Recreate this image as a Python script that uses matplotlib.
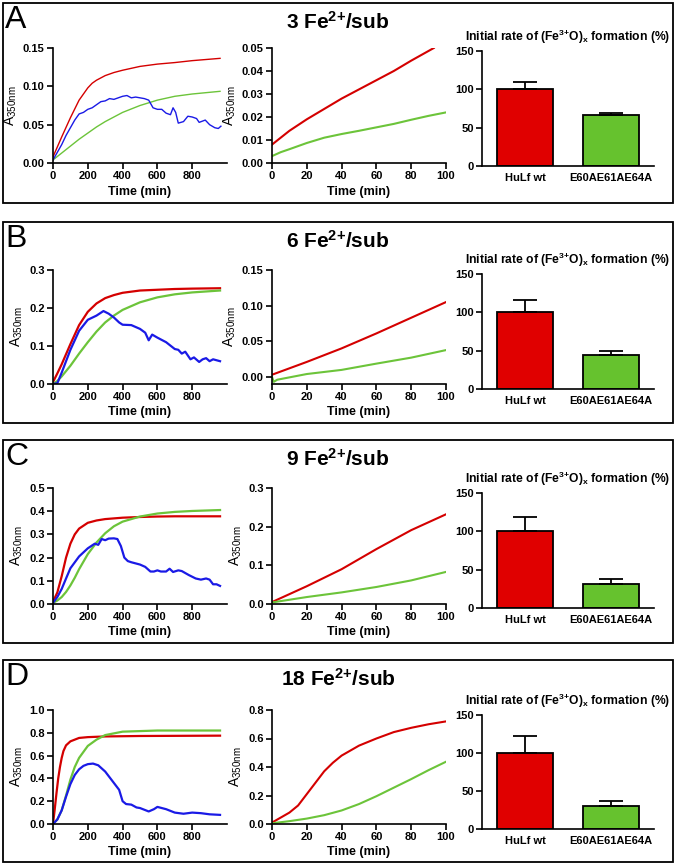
import matplotlib.pyplot as plt
from matplotlib.patches import Rectangle
from matplotlib.ticker import FormatStrFormatter

plt.rcParams['font.family'] = ['Liberation Sans', 'DejaVu Sans']
plt.rcParams['mathtext.fontset'] = 'custom'
plt.rcParams['mathtext.rm'] = 'Liberation Sans'
plt.rcParams['mathtext.it'] = 'Liberation Sans:italic'
plt.rcParams['mathtext.bf'] = 'Liberation Sans:bold'

RED = '#d40000'
GREEN = '#6cc43a'
BLUE = '#1a1ae6'
BAR_RED = '#e00000'
BAR_GREEN = '#66c22e'

# ---------------- data ----------------
# panel A : 3 Fe2+/sub
a_t = [0, 50, 100, 150, 200, 225, 250, 300, 350, 400, 500, 600, 700, 800, 960]
a_red = [0.008, 0.034, 0.059, 0.082, 0.098, 0.104, 0.108, 0.114, 0.118, 0.121, 0.126, 0.129,
         0.131, 0.1335, 0.1365]
a_green = [0.004, 0.013, 0.022, 0.031, 0.039, 0.043, 0.047, 0.054, 0.060, 0.066, 0.075, 0.082,
           0.087, 0.090, 0.0935]
a_blue_t = [0, 25, 50, 75, 100, 125, 150, 175, 200, 225, 250, 275, 300, 325, 350, 375, 400, 425,
            450, 475, 500, 525, 550, 575, 600, 625, 650, 675, 690, 705, 720, 750, 775, 800, 825,
            840, 875, 900, 930, 950, 965]
a_blue = [0.004, 0.014, 0.024, 0.036, 0.046, 0.056, 0.064, 0.066, 0.070, 0.072, 0.076, 0.080, 0.081,
          0.084, 0.083, 0.085, 0.087, 0.088, 0.085, 0.086, 0.085, 0.084, 0.082, 0.072, 0.070, 0.070,
          0.065, 0.063, 0.072, 0.066, 0.052, 0.054, 0.061, 0.060, 0.058, 0.053, 0.056, 0.050, 0.046,
          0.045, 0.048]
a_mid_red_t = [0, 5, 10, 20, 30, 40, 50, 60, 70, 80, 93]
a_mid_red = [0.008, 0.011, 0.014, 0.019, 0.0235, 0.028, 0.032, 0.036, 0.040, 0.0445, 0.050]
a_mid_green_t = [0, 5, 10, 20, 30, 40, 50, 60, 70, 80, 90, 100]
a_mid_green = [0.003, 0.0047, 0.006, 0.0087, 0.011, 0.0126, 0.014, 0.0155, 0.017, 0.0188, 0.0205, 0.022]

# panel B : 6 Fe2+/sub
b_t = [0, 25, 50, 100, 150, 200, 250, 300, 350, 400, 500, 600, 700, 800, 960]
b_red = [0.005, 0.028, 0.052, 0.105, 0.155, 0.190, 0.212, 0.226, 0.234, 0.240, 0.246, 0.248, 0.250, 0.251, 0.252]
b_green = [0.000, 0.008, 0.020, 0.048, 0.080, 0.110, 0.138, 0.162, 0.180, 0.195, 0.215, 0.228, 0.236, 0.241, 0.246]
b_blue_t = [0, 25, 50, 75, 100, 150, 200, 250, 290, 320, 350, 380, 400, 450, 500, 530, 550, 570,
            600, 650, 700, 720, 740, 760, 790, 810, 840, 860, 880, 900, 920, 960]
b_blue = [0.000, 0.002, 0.030, 0.060, 0.090, 0.140, 0.169, 0.180, 0.192, 0.185, 0.175, 0.162, 0.156,
          0.155, 0.145, 0.135, 0.115, 0.130, 0.122, 0.110, 0.092, 0.090, 0.080, 0.085, 0.065, 0.070,
          0.058, 0.065, 0.068, 0.060, 0.065, 0.060]
b_mid_t = [0, 20, 40, 60, 80, 100]
b_mid_red = [0.003, 0.021, 0.040, 0.061, 0.083, 0.105]
b_mid_green_t = [0, 1, 3, 20, 40, 60, 80, 100]
b_mid_green = [0.000, -0.007, -0.004, 0.004, 0.0098, 0.0186, 0.027, 0.0376]

# panel C : 9 Fe2+/sub
c_t = [0, 25, 50, 75, 100, 125, 150, 200, 250, 300, 350, 400, 500, 600, 700, 800, 960]
c_red = [0.010, 0.050, 0.120, 0.200, 0.260, 0.300, 0.325, 0.350, 0.360, 0.366, 0.369, 0.372,
         0.375, 0.377, 0.378, 0.378, 0.378]
c_green = [0.005, 0.015, 0.030, 0.052, 0.080, 0.113, 0.150, 0.215, 0.265, 0.305, 0.335, 0.355,
           0.377, 0.390, 0.397, 0.401, 0.405]
c_blue_t = [0, 25, 50, 75, 100, 150, 200, 240, 260, 280, 300, 320, 350, 370, 390, 410, 430, 450,
            500, 530, 560, 580, 600, 620, 650, 670, 690, 720, 740, 780, 820, 850, 880, 900, 920, 940, 960]
c_blue = [0.005, 0.030, 0.065, 0.110, 0.154, 0.205, 0.240, 0.260, 0.255, 0.280, 0.275, 0.282, 0.283,
          0.280, 0.250, 0.200, 0.185, 0.180, 0.170, 0.160, 0.140, 0.140, 0.145, 0.140, 0.140, 0.152,
          0.138, 0.145, 0.142, 0.125, 0.110, 0.105, 0.110, 0.105, 0.085, 0.085, 0.078]
c_mid_t = [0, 20, 40, 60, 80, 100]
c_mid_red = [0.005, 0.046, 0.090, 0.142, 0.191, 0.232]
c_mid_green = [0.004, 0.018, 0.030, 0.044, 0.061, 0.083]

# panel D : 18 Fe2+/sub
d_red_t = [0, 10, 20, 30, 40, 50, 60, 75, 100, 150, 200, 300, 500, 960]
d_red = [0.00, 0.13, 0.27, 0.40, 0.50, 0.58, 0.64, 0.69, 0.725, 0.755, 0.762, 0.768, 0.772, 0.775]
d_green_t = [0, 25, 50, 75, 100, 125, 150, 200, 250, 300, 400, 600, 960]
d_green = [0.00, 0.04, 0.12, 0.25, 0.39, 0.50, 0.58, 0.685, 0.74, 0.78, 0.81, 0.82, 0.82]
d_blue_t = [0, 25, 50, 75, 100, 125, 150, 175, 200, 230, 260, 300, 350, 380, 400, 420, 450, 480,
            500, 550, 580, 600, 650, 700, 750, 800, 850, 900, 960]
d_blue = [0.00, 0.04, 0.12, 0.24, 0.35, 0.43, 0.48, 0.51, 0.525, 0.53, 0.515, 0.46, 0.36, 0.30,
          0.20, 0.175, 0.170, 0.145, 0.140, 0.110, 0.130, 0.150, 0.130, 0.100, 0.090, 0.100, 0.095,
          0.085, 0.080]
d_mid_red_t = [0, 10, 15, 20, 25, 30, 35, 40, 50, 60, 70, 80, 90, 100]
d_mid_red = [0.01, 0.08, 0.13, 0.21, 0.29, 0.37, 0.43, 0.48, 0.55, 0.60, 0.645, 0.675, 0.70, 0.72]
d_mid_green_t = [0, 10, 20, 30, 40, 50, 60, 70, 80, 90, 100]
d_mid_green = [0.005, 0.02, 0.038, 0.062, 0.095, 0.14, 0.195, 0.255, 0.315, 0.378, 0.437]

# initial rates (%)
bar_labels = ['HuLf wt', 'E60AE61AE64A']
rate_a = [100, 66]
err_a = [10, 3.5]
rate_b = [100, 44]
err_b = [16, 5.5]
rate_c = [100, 31]
err_c = [19, 7]
rate_d = [100, 30]
err_d = [22.5, 7.5]

panel_letters = ['A', 'B', 'C', 'D']
panel_titles = ['3', '6', '9', '18']

# ---------------- layout (pixels) ----------------
W, H = 677, 865
fig = plt.figure(figsize=(W / 100, H / 100), dpi=100)


def px(x0, y0, x1, y1):
    return [x0 / W, 1 - y1 / H, (x1 - x0) / W, (y1 - y0) / H]


box_top = [3, 222, 440, 660]
box_bot = [203, 423, 643, 862]
ax_top = [48, 270, 488, 710]
ax_bot = [163, 384, 604, 824]
bar_top = [51, 274, 493, 715]
bar_bot = [166, 389, 608, 829]

rows = [
    dict(left=[(a_t, a_red, RED), (a_t, a_green, GREEN), (a_blue_t, a_blue, BLUE)],
         mid=[(a_mid_red_t, a_mid_red, RED), (a_mid_green_t, a_mid_green, GREEN)],
         lylim=(0, 0.15), lyt=[0, 0.05, 0.10, 0.15], lfmt='%.2f',
         mylim=(0, 0.05), myt=[0, 0.01, 0.02, 0.03, 0.04, 0.05], mfmt='%.2f',
         rate=rate_a, err=err_a, lw=1.0),
    dict(left=[(b_t, b_red, RED), (b_t, b_green, GREEN), (b_blue_t, b_blue, BLUE)],
         mid=[(b_mid_t, b_mid_red, RED), (b_mid_green_t, b_mid_green, GREEN)],
         lylim=(0, 0.3), lyt=[0, 0.1, 0.2, 0.3], lfmt='%.1f',
         mylim=(-0.01, 0.15), myt=[0, 0.05, 0.10, 0.15], mfmt='%.2f',
         rate=rate_b, err=err_b, lw=1.6),
    dict(left=[(c_t, c_red, RED), (c_t, c_green, GREEN), (c_blue_t, c_blue, BLUE)],
         mid=[(c_mid_t, c_mid_red, RED), (c_mid_t, c_mid_green, GREEN)],
         lylim=(0, 0.5), lyt=[0, 0.1, 0.2, 0.3, 0.4, 0.5], lfmt='%.1f',
         mylim=(0, 0.3), myt=[0, 0.1, 0.2, 0.3], mfmt='%.1f',
         rate=rate_c, err=err_c, lw=1.6),
    dict(left=[(d_red_t, d_red, RED), (d_green_t, d_green, GREEN), (d_blue_t, d_blue, BLUE)],
         mid=[(d_mid_red_t, d_mid_red, RED), (d_mid_green_t, d_mid_green, GREEN)],
         lylim=(0, 1.0), lyt=[0, 0.2, 0.4, 0.6, 0.8, 1.0], lfmt='%.1f',
         mylim=(0, 0.8), myt=[0, 0.2, 0.4, 0.6, 0.8], mfmt='%.1f',
         rate=rate_d, err=err_d, lw=1.6),
]


def prism(ax):
    for s in ['top', 'right']:
        ax.spines[s].set_visible(False)
    for s in ['left', 'bottom']:
        ax.spines[s].set_linewidth(1.2)
    ax.tick_params(direction='out', length=4, width=1.2, labelsize=8, pad=2)
    for lab in ax.get_xticklabels() + ax.get_yticklabels():
        lab.set_fontweight('bold')


for i, r in enumerate(rows):
    # panel frame
    fig.patches.append(Rectangle((3 / W, 1 - box_bot[i] / H), 670 / W, (box_bot[i] - box_top[i]) / H,
                                 transform=fig.transFigure, fill=False, edgecolor='black', linewidth=1.3))
    fig.text(5 / W, 1 - (box_top[i] + 2) / H, panel_letters[i], fontsize=23, va='top', ha='left')
    fig.text(338 / W, 1 - (box_top[i] + 19) / H, panel_titles[i] + r' Fe$^{\mathbf{2{+}}}$/sub',
             fontsize=15, fontweight='bold', ha='center', va='center')

    # long time course
    ax = fig.add_axes(px(53, ax_top[i], 227, ax_bot[i]))
    for t, y, c in r['left']:
        ax.plot(t, y, color=c, lw=r['lw'])
    ax.set_xlim(0, 1000)
    ax.set_ylim(*r['lylim'])
    ax.set_xticks([0, 200, 400, 600, 800])
    ax.set_yticks(r['lyt'])
    ax.yaxis.set_major_formatter(FormatStrFormatter(r['lfmt']))
    ax.set_xlabel('Time (min)', fontsize=9, fontweight='bold', labelpad=3)
    ax.set_ylabel(r'$\mathregular{A_{350nm}}$', fontsize=10, labelpad=3)
    prism(ax)

    # first 100 min
    ax = fig.add_axes(px(272, ax_top[i], 446, ax_bot[i]))
    for t, y, c in r['mid']:
        ax.plot(t, y, color=c, lw=1.5)
    ax.set_xlim(0, 100)
    ax.set_ylim(*r['mylim'])
    ax.set_xticks([0, 20, 40, 60, 80, 100])
    ax.set_yticks(r['myt'])
    ax.yaxis.set_major_formatter(FormatStrFormatter(r['mfmt']))
    ax.set_xlabel('Time (min)', fontsize=9, fontweight='bold', labelpad=3)
    ax.set_ylabel(r'$\mathregular{A_{350nm}}$', fontsize=10, labelpad=3)
    prism(ax)

    # initial rates
    ax = fig.add_axes(px(482, bar_top[i], 654, bar_bot[i]))
    ax.bar([0, 1], r['rate'], width=0.66, color=[BAR_RED, BAR_GREEN], edgecolor='black', linewidth=1.3)
    ax.errorbar([0, 1], r['rate'], yerr=[[0, 0], r['err']], fmt='none', ecolor='black',
                elinewidth=1.3, capsize=8.5, capthick=1.3)
    ax.set_xlim(-0.5, 1.5)
    ax.set_ylim(0, 150)
    ax.set_yticks([0, 50, 100, 150])
    ax.set_xticks([0, 1])
    ax.set_xticklabels(bar_labels)
    ax.set_title(r'Initial rate of (Fe$^{\mathbf{3{+}}}$O)$_{\mathbf{x}}$ formation (%)',
                 fontsize=8.7, fontweight='bold', pad=7)
    prism(ax)
    ax.tick_params(axis='x', length=0, pad=5)

fig.savefig('out.png', dpi=100)
